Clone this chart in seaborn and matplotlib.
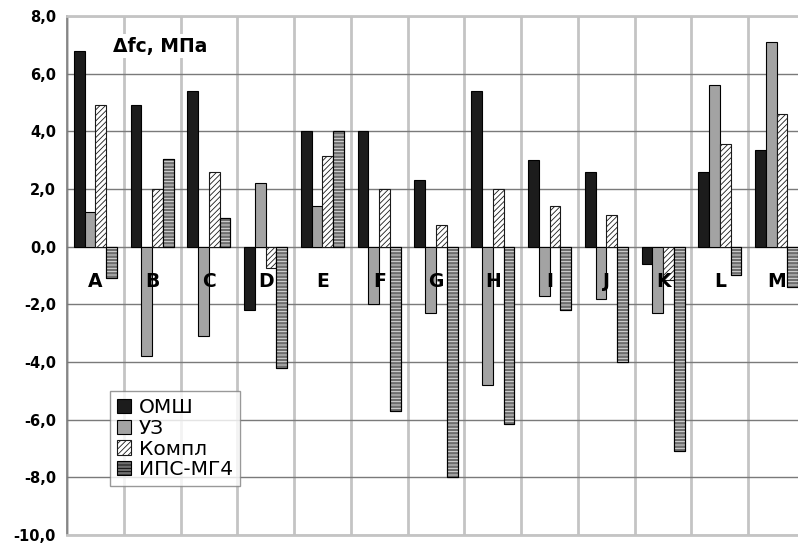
import numpy as np
import pandas as pd
import matplotlib
matplotlib.use("Agg")
import matplotlib.pyplot as plt
from matplotlib.patches import Rectangle, Patch
import seaborn as sns

########################################################
# Data
########################################################

categories = ["A", "B", "C", "D", "E", "F", "G", "H", "I", "J", "K", "L", "M"]
series = ["ОМШ", "УЗ", "Компл", "ИПС-МГ4"]

omsh = [6.8, 4.9, 5.4, -2.2, 4.0, 4.0, 2.3, 5.4, 3.0, 2.6, -0.6, 2.6, 3.35]
uz = [1.2, -3.8, -3.1, 2.2, 1.4, -2.0, -2.3, -4.8, -1.7, -1.8, -2.3, 5.6, 7.1]
kompl = [4.9, 2.0, 2.6, -0.75, 3.15, 2.0, 0.75, 2.0, 1.4, 1.1, -1.15, 3.55, 4.6]
ips = [-1.1, 3.05, 1.0, -4.2, 4.0, -5.7, -8.0, -6.15, -2.2, -4.0, -7.1, -1.0, -1.4]

y_ticks = [8.0, 6.0, 4.0, 2.0, 0.0, -2.0, -4.0, -6.0, -8.0, -10.0]
y_tick_labels = ["8,0", "6,0", "4,0", "2,0", "0,0", "-2,0", "-4,0", "-6,0", "-8,0", "-10,0"]

y_title = "Δfc, МПа"

########################################################
# Long table for seaborn
########################################################

values = {"ОМШ": omsh, "УЗ": uz, "Компл": kompl, "ИПС-МГ4": ips}
rows = []
for s in series:
    for c, v in zip(categories, values[s]):
        rows.append({"cat": c, "series": s, "val": v})
df = pd.DataFrame(rows)

face = {"ОМШ": "#1c1c1c", "УЗ": "#a3a3a3", "Компл": "#ffffff", "ИПС-МГ4": "#6e6e6e"}

sns.set_style("white")
plt.rcParams["font.family"] = ["DejaVu Sans"]
plt.rcParams["text.color"] = "black"
plt.rcParams["ytick.labelcolor"] = "black"
plt.rcParams["hatch.linewidth"] = 0.6

fig = plt.figure(figsize=(7.98, 5.44), dpi=100)
ax = fig.add_axes([67 / 798, 9 / 544, 738 / 798, 519 / 544])

sns.barplot(data=df, x="cat", y="val", hue="series", order=categories,
            hue_order=series, palette=face, width=0.76, saturation=1,
            edgecolor="black", linewidth=0.8, legend=False, ax=ax, zorder=3)

# hatching
for bar in ax.containers[2]:
    bar.set_hatch("//////")
    bar.set_edgecolor("#1a1a1a")
for bar in ax.containers[3]:
    x, y = bar.get_xy()
    w, h = bar.get_width(), bar.get_height()
    ax.add_patch(Rectangle((x, y), w, h, facecolor="none", edgecolor="#e8e8e8",
                           hatch="-----", linewidth=0, zorder=3.1))
    ax.add_patch(Rectangle((x, y), w, h, facecolor="none", edgecolor="black",
                           linewidth=0.8, zorder=3.2))

########################################################
# Axes, grid, labels
########################################################

ax.set_xlim(-0.5, 12.5)
ax.set_ylim(-10, 8)
ax.set_yticks(y_ticks)
ax.set_yticklabels(y_tick_labels, fontsize=10.5, fontweight="bold", color="black")
ax.set_xticks([])
ax.set_xticks(np.arange(len(categories) + 1) - 0.5, minor=True)
ax.tick_params(axis="y", which="major", direction="out", length=5, width=1,
               color="#808080", pad=3)
ax.tick_params(axis="x", which="minor", length=0)
ax.set_xlabel("")
ax.set_ylabel("")

ax.grid(axis="y", which="major", color="#7a7a7a", linewidth=1.0, zorder=1)
ax.grid(axis="x", which="minor", color="#c4c4c4", linewidth=2.0, zorder=1)
ax.set_axisbelow(True)

for side in ["top", "bottom"]:
    ax.spines[side].set_color("#c4c4c4")
    ax.spines[side].set_linewidth(2.0)
ax.spines["right"].set_visible(False)
ax.spines["left"].set_color("#7a7a7a")
ax.spines["left"].set_linewidth(1.2)

for i, c in enumerate(categories):
    ax.text(i, -1.2, c, ha="center", va="center", fontsize=13.5,
            fontweight="bold", color="black", zorder=5)

ax.text(0.062, 0.942, y_title, transform=ax.transAxes, ha="left", va="center",
        fontsize=13.5, fontweight="bold", color="black", zorder=6,
        bbox=dict(facecolor="white", edgecolor="none", pad=2))

handles = [
    Patch(facecolor=face["ОМШ"], edgecolor="black", linewidth=0.8),
    Patch(facecolor=face["УЗ"], edgecolor="black", linewidth=0.8),
    Patch(facecolor="white", edgecolor="#1a1a1a", hatch="//////", linewidth=0.8),
    Patch(facecolor=face["ИПС-МГ4"], edgecolor="black", hatch="-----", linewidth=0.8),
]
leg = ax.legend(handles, series, loc="upper left", bbox_to_anchor=(0.058, 0.277),
                fontsize=14.5, frameon=True, fancybox=False, handlelength=0.7,
                handleheight=0.7, handletextpad=0.4, labelspacing=0.08,
                borderpad=0.35, borderaxespad=0, labelcolor="black")
leg.get_frame().set_edgecolor("#808080")
leg.get_frame().set_linewidth(1.0)
leg.set_zorder(6)

fig.savefig("out.png", dpi=100)
